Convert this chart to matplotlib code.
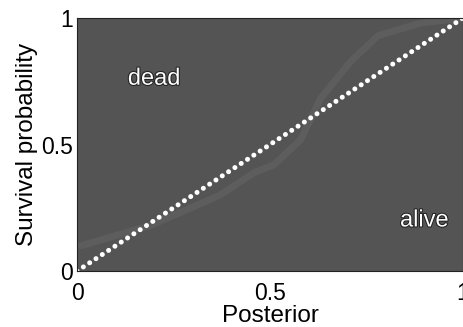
import matplotlib
matplotlib.use("Agg")
import matplotlib.pyplot as plt
import matplotlib.patheffects as pe

plt.rcParams['font.family'] = ['Liberation Sans', 'DejaVu Sans']

# diagonal (posterior == survival probability)
diag_x = [0, 1]
diag_y = [0, 1]

# faint decision boundary visible in the background
bound_x = [0.01, 0.19, 0.37, 0.46, 0.51, 0.58, 0.63, 0.71, 0.78, 0.89, 1.0]
bound_y = [0.10, 0.18, 0.30, 0.39, 0.42, 0.52, 0.68, 0.83, 0.93, 0.98, 1.0]

ticks = [0, 0.5, 1]
tick_labels = ['0', '0.5', '1']

fig = plt.figure(figsize=(4.64, 3.27), dpi=100)
ax = fig.add_axes([0.166, 0.171, 0.832, 0.774])
ax.set_facecolor('#545454')

ax.plot(bound_x, bound_y, color='#666666', lw=5, alpha=0.5, solid_capstyle='round')
ax.plot(diag_x, diag_y, color='white', lw=3.6, ls=(0, (0.01, 1.5)),
        dash_capstyle='round', clip_on=False)

outline = [pe.withStroke(linewidth=1.5, foreground='#222222')]
ax.text(0.20, 0.76, 'dead', color='white', fontsize=17, ha='center', va='center',
        path_effects=outline)
ax.text(0.90, 0.20, 'alive', color='white', fontsize=17, ha='center', va='center',
        path_effects=outline)

ax.set_xlim(0, 1)
ax.set_ylim(0, 1)
ax.set_xticks(ticks)
ax.set_xticklabels(tick_labels)
ax.set_yticks(ticks)
ax.set_yticklabels(tick_labels)
ax.tick_params(direction='in', length=0, labelsize=16.5)
ax.tick_params(axis='x', pad=8)
ax.tick_params(axis='y', pad=3)
ax.set_xlabel('Posterior', fontsize=17.5, labelpad=0)
ax.set_ylabel('Survival probability', fontsize=17.5, labelpad=2)
for s in ax.spines.values():
    s.set_color('#222222')
    s.set_linewidth(0.8)

fig.savefig('out.png', dpi=100)
